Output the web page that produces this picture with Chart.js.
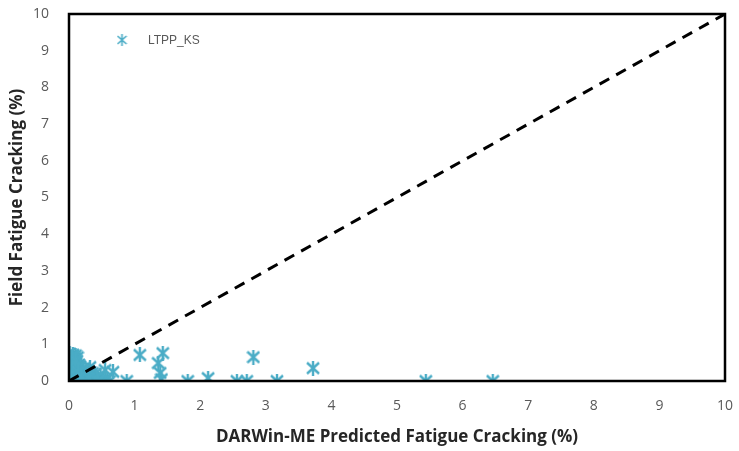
<!DOCTYPE html>
<html><head><meta charset="utf-8">
<script src="https://cdn.jsdelivr.net/npm/chart.js@4.4.0/dist/chart.umd.min.js"></script>
<style>html,body{margin:0;padding:0;background:#fff}#wrap{width:739px;height:451px}</style>
</head><body><div id="wrap"><canvas id="c" width="739" height="451"></canvas></div>
<script>
const seriesName = "LTPP_KS";
const predicted = [0,0.02,0.01,0.03,0.02,0.05,0.04,0.06,0.1,0.03,0.08,0.1,0.12,0.15,0.12,0.18,0.2,0.22,0.25,0.28,0.3,0.32,0.35,0.38,0.4,0.45,0.48,0.5,0.55,0.58,0.62,0.67,0.06,0.14,0.16,0.05,0.07,0.09,0.0,0.0,0.01,0.13,0.24,0.88,1.08,1.43,1.36,1.39,1.41,1.81,2.12,2.56,2.71,2.81,3.17,3.72,5.44,6.46,
  0.0,0.01,0.04,0.06,0.08,0.11,0.13,0.17,0.19,0.23,0.27,0.09,0.15,0.21,0.26,0.33,0.36,0.42,0.05,0.1,0.02,0.07,0.14,0.19,0.3,0.44];
const field     = [0,0.1,0.2,0.3,0.4,0.5,0.6,0.72,0.7,0.05,0.0,0.15,0.3,0.45,0.55,0.2,0.05,0.35,0.15,0.0,0.25,0.38,0.1,0.0,0.2,0.05,0.15,0.0,0.3,0.05,0.0,0.25,0.3,0.1,0.0,0.15,0.45,0.62,0.5,0.65,0.75,0.65,0.08,0.0,0.71,0.76,0.49,0.22,0.05,0.0,0.08,0.0,0.0,0.65,0.0,0.35,0.0,0.0,
  0.35,0.55,0.25,0.05,0.4,0.5,0.2,0.4,0.3,0.1,0.28,0.1,0.35,0.0,0.05,0.15,0.22,0.1,0.68,0.55,0.05,0.2,0.25,0.12,0.08,0.0];
const equalityLine = [[0,0],[10,10]];
const xTicks = [0,1,2,3,4,5,6,7,8,9,10];
const yTicks = [0,1,2,3,4,5,6,7,8,9,10];
const xTitle = "DARWin-ME Predicted Fatigue Cracking (%)";
const yTitle = "Field Fatigue Cracking (%)";

const markerColor = '#4aacc6';
function makeStar(w,h,lw){
  const c=document.createElement('canvas');c.width=w;c.height=h;
  const g=c.getContext('2d');g.strokeStyle=markerColor;g.lineWidth=lw;g.lineCap='butt';
  g.beginPath();
  g.moveTo(1,2);g.lineTo(w-1,h-2);
  g.moveTo(w-1,2);g.lineTo(1,h-2);
  g.moveTo(w/2,0);g.lineTo(w/2,h);
  g.stroke();return c;
}
const star=makeStar(14,15,2.4);
const starSmall=makeStar(11,12,1.6);

const pts = predicted.map((x,i)=>({x:x,y:field[i]}));

const framePlugin={id:'frame',afterDatasetsDraw(chart){
  const a=chart.chartArea,ctx=chart.ctx;ctx.save();
  ctx.strokeStyle='#000';ctx.lineWidth=2.5;
  ctx.strokeRect(a.left,a.top,a.right-a.left,a.bottom-a.top);
  // legend
  ctx.drawImage(starSmall,a.left+53-5.5,a.top+26-6);
  ctx.fillStyle='#595959';ctx.font='12px "Liberation Sans", "DejaVu Sans", sans-serif';
  ctx.textBaseline='middle';ctx.fillText(chart.data.datasets[0].label,a.left+79,a.top+27);
  ctx.restore();
}};

new Chart(document.getElementById('c'),{
  type:'scatter',
  data:{datasets:[
    {label:seriesName,data:pts,pointStyle:star,pointRadius:7,pointHoverRadius:7,order:2},
    {label:'line',data:equalityLine.map(p=>({x:p[0],y:p[1]})),showLine:true,borderColor:'#000',borderWidth:3,borderDash:[11,8],pointRadius:0,order:1}
  ]},
  options:{
    responsive:false,animation:false,devicePixelRatio:1,
    layout:{padding:{top:14,right:14,left:3,bottom:0},autoPadding:false},
    plugins:{legend:{display:false},tooltip:{enabled:false}},
    scales:{
      x:{type:'linear',min:0,max:10,
        afterBuildTicks(s){s.ticks=xTicks.map(v=>({value:v}));},
        afterFit(s){s.height=70;s.paddingLeft=0;s.paddingRight=0;},
        grid:{display:false},border:{display:true,color:'#000',width:2},
        ticks:{color:'#595959',font:{size:14,family:'"Open Sans", sans-serif'},padding:9},
        title:{display:true,text:xTitle,color:'#262626',font:{size:17,weight:'bold',family:'"Open Sans", sans-serif'},padding:{top:2}}
      },
      y:{type:'linear',min:0,max:10,
        afterBuildTicks(s){s.ticks=yTicks.map(v=>({value:v}));},
        afterFit(s){s.width=66;s.paddingTop=0;s.paddingBottom=0;},
        grid:{display:false},border:{display:true,color:'#3a3a3a',width:2},
        ticks:{color:'#595959',font:{size:14,family:'"Open Sans", sans-serif'},padding:12},
        title:{display:true,text:yTitle,color:'#262626',font:{size:17,weight:'bold',family:'"Open Sans", sans-serif'},padding:{bottom:2}}
      }
    }
  },
  plugins:[framePlugin]
});
</script></body></html>
